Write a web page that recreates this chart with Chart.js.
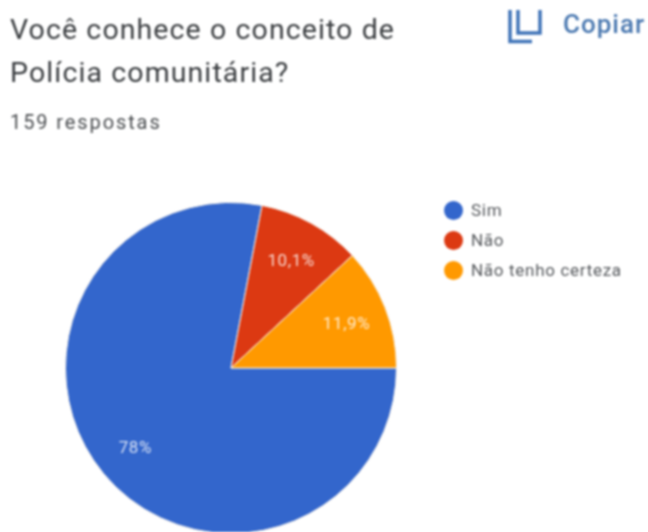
<!DOCTYPE html>
<html>
<head>
<meta charset="utf-8">
<script src="https://cdn.jsdelivr.net/npm/chart.js@4/dist/chart.umd.min.js"></script>
<style>
html, body { margin: 0; padding: 0; background: #fff; }
#page { position: relative; width: 648px; height: 532px; overflow: hidden; font-family: Roboto, sans-serif; filter: blur(0.8px); }
#page div { position: absolute; white-space: nowrap; }
canvas { position: absolute; left: 0; top: 0; }
.title { left: 10px; font-size: 28.5px; line-height: 34px; color: #3a3d40; letter-spacing: 1.1px; }
#legend .dot { width: 19px; height: 19px; border-radius: 50%; left: 444px; }
#legend .txt { left: 471px; font-size: 17px; color: #55585c; line-height: 18px; letter-spacing: 0.7px; }
</style>
</head>
<body>
<div id="page">
  <canvas id="pie" width="648" height="540"></canvas>
  <div class="title" style="top:13px">Você conhece o conceito de</div>
  <div class="title" style="top:56px">Polícia comunitária?</div>
  <div style="left:10px;top:111px;font-size:20px;line-height:22px;color:#4a4d50;letter-spacing:1.9px">159 respostas</div>
  <svg style="position:absolute;left:505px;top:5px" width="40" height="40" fill="none" stroke="#3f73b8" stroke-width="3.5">
    <path d="M5 5V36.5H27"/>
    <path d="M13 5V28H35V5"/>
  </svg>
  <div style="left:563px;top:9px;font-size:26px;line-height:30px;font-weight:500;color:#4a78b0;letter-spacing:1px">Copiar</div>
  <div id="legend"></div>
</div>
<script>
const categories = ['Sim', 'Não', 'Não tenho certeza'];
const values = [78, 10.1, 11.9];
const colors = ['#3366cc', '#dc3912', '#ff9900'];

// legend on the right, html is easier to place than the built in one
const legend = document.getElementById('legend');
categories.forEach(function (name, i) {
    const y = 210 + i * 30;
    const dot = document.createElement('div');
    dot.className = 'dot';
    dot.style.top = (y - 9) + 'px';
    dot.style.background = colors[i];
    const txt = document.createElement('div');
    txt.className = 'txt';
    txt.style.top = (y - 9) + 'px';
    txt.textContent = name;
    legend.appendChild(dot);
    legend.appendChild(txt);
});

// percent labels inside the slices
const sliceLabels = {
    id: 'sliceLabels',
    afterDatasetsDraw: function (chart) {
        const ctx = chart.ctx;
        ctx.save();
        ctx.font = '17px Roboto, sans-serif';
        ctx.letterSpacing = '0.6px';
        ctx.fillStyle = 'rgba(255, 255, 255, 0.8)';
        ctx.textAlign = 'center';
        ctx.textBaseline = 'middle';
        chart.getDatasetMeta(0).data.forEach(function (arc, i) {
            const mid = (arc.startAngle + arc.endAngle) / 2;
            const r = arc.outerRadius * 0.75;
            const text = String(values[i]).replace('.', ',') + '%';
            ctx.fillText(text, arc.x + Math.cos(mid) * r, arc.y + Math.sin(mid) * r + 2);
        });
        ctx.restore();
    }
};

new Chart(document.getElementById('pie').getContext('2d'), {
    type: 'pie',
    data: {
        labels: categories,
        datasets: [{
            data: values,
            backgroundColor: colors,
            borderColor: '#f4f0ea',
            borderWidth: 1
        }]
    },
    options: {
        responsive: false,
        animation: false,
        rotation: 90,
        layout: { padding: { left: 65, right: 251, top: 202, bottom: 6 } },
        plugins: {
            legend: { display: false },
            tooltip: { enabled: false }
        }
    },
    plugins: [sliceLabels]
});
</script>
</body>
</html>
